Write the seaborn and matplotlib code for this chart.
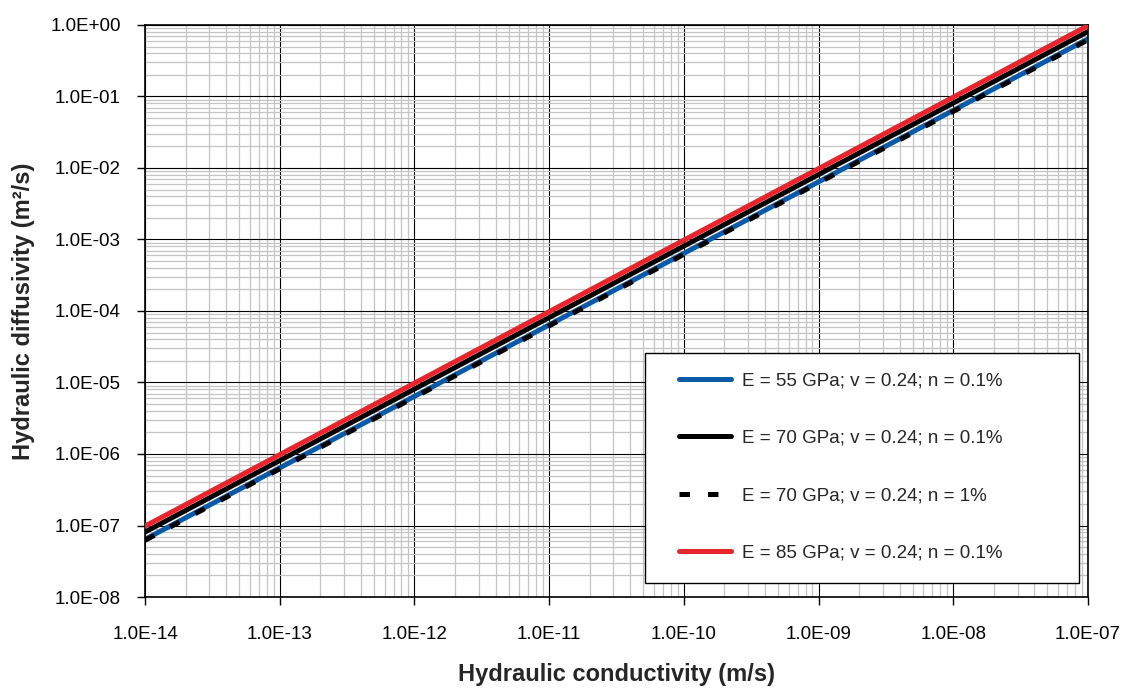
import numpy as np
import pandas as pd
import seaborn as sns
import matplotlib.pyplot as plt
from matplotlib.patches import Rectangle
from matplotlib.ticker import LogLocator, FuncFormatter, NullFormatter

# Daten
conductivity = [1e-14, 1e-7]
d_e55 = [6.4e-8, 0.64]
d_e70 = [8.1e-8, 0.81]
d_e70_n1 = [6.2e-8, 0.62]
d_e85 = [9.8e-8, 0.98]

labels = ["E = 55 GPa; v = 0.24; n = 0.1%",
          "E = 70 GPa; v = 0.24; n = 0.1%",
          "E = 70 GPa; v = 0.24; n = 1%",
          "E = 85 GPa; v = 0.24; n = 0.1%"]
series = [d_e55, d_e70, d_e70_n1, d_e85]

df = pd.concat([pd.DataFrame({"K": conductivity, "D": s, "case": lab})
                for s, lab in zip(series, labels)], ignore_index=True)

sns.set_theme(style="white")
plt.rcParams['font.family'] = ['Liberation Sans', 'DejaVu Sans']

fig = plt.figure(figsize=(11.23, 6.89), dpi=100)
ax = fig.add_axes([145 / 1123, 1 - 597 / 689, 943 / 1123, 572 / 689])

colors = {labels[0]: "#0a5aa8", labels[1]: "black", labels[2]: "black", labels[3]: "#e8242c"}
sns.lineplot(data=df, x="K", y="D", hue="case", palette=colors, ax=ax,
             linewidth=3.6, legend=False, hue_order=labels)
ax.lines[2].set_dashes([2.1, 3.6])
ax.lines[2].set_zorder(3)
ax.lines[3].set_zorder(4)

ax.set_xscale("log")
ax.set_yscale("log")
ax.set_xlim(1e-14, 1e-7)
ax.set_ylim(1e-8, 1e0)

ax.xaxis.set_major_locator(LogLocator(base=10, numticks=20))
ax.yaxis.set_major_locator(LogLocator(base=10, numticks=20))
ax.xaxis.set_minor_locator(LogLocator(base=10, subs=np.arange(2, 10), numticks=100))
ax.yaxis.set_minor_locator(LogLocator(base=10, subs=np.arange(2, 10), numticks=100))
fmt = FuncFormatter(lambda v, p: "%.1E" % v)
ax.xaxis.set_major_formatter(fmt)
ax.yaxis.set_major_formatter(fmt)
ax.xaxis.set_minor_formatter(NullFormatter())
ax.yaxis.set_minor_formatter(NullFormatter())

ax.grid(which="minor", color="#c4c4c4", linewidth=0.9)
ax.grid(which="major", color="black", linewidth=0.8)
ax.set_axisbelow(True)
for sp in ax.spines.values():
    sp.set_color("black")
    sp.set_linewidth(1.2)

ax.tick_params(which="major", direction="out", length=6, width=1, colors="black",
               labelsize=13.5, bottom=True, left=True)
ax.tick_params(axis="x", which="major", pad=15)
ax.tick_params(axis="y", which="major", pad=11.5)
ax.tick_params(which="minor", length=0)

ax.set_xlabel("Hydraulic conductivity (m/s)", fontsize=17, fontweight="bold")
ax.set_ylabel("Hydraulic diffusivity (m\u00b2/s)", fontsize=17, fontweight="bold")
ax.xaxis.set_label_coords(0.5, -0.116)
ax.yaxis.set_label_coords(-0.117, 0.5)

# Legendenrahmen (feste Größe wie im Original)
box = Rectangle((0.530, 0.0245), 0.46, 0.4025, transform=ax.transAxes,
                facecolor="white", edgecolor="black", linewidth=1.0, zorder=9)
ax.add_patch(box)

handles = ax.lines[:4]
leg = ax.legend(handles, labels, loc="upper left", bbox_to_anchor=(0.566, 0.393),
                frameon=False, fontsize=13.5, labelspacing=2.15, handlelength=2.8,
                handletextpad=0.6, borderpad=0, borderaxespad=0)
leg.set_zorder(10)

fig.savefig("out.png", dpi=100)
